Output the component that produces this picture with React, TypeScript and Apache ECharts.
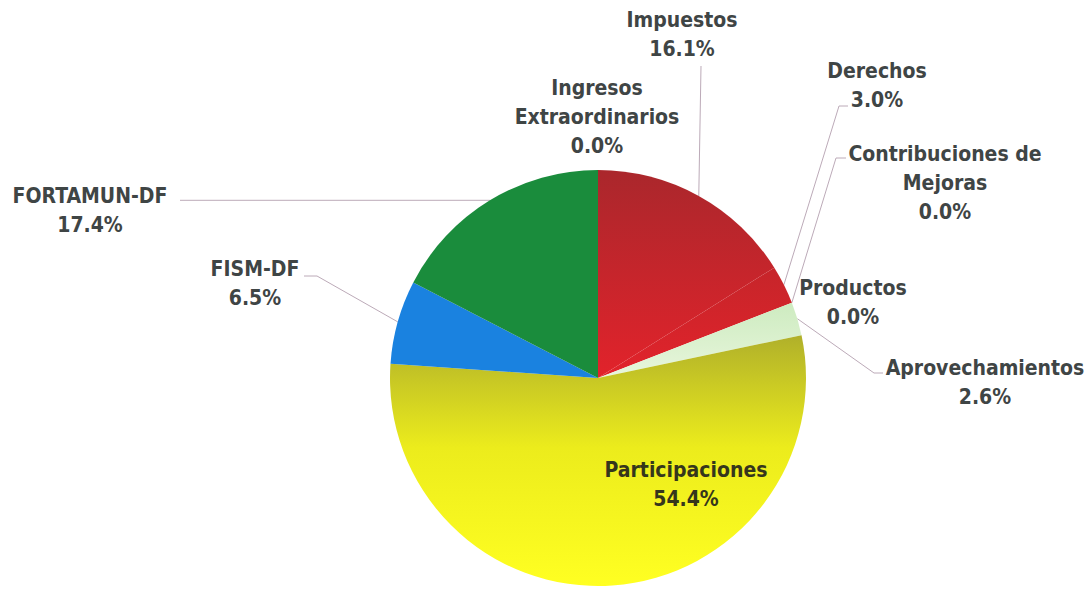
import React, { useEffect, useRef } from "react";
import * as echarts from "echarts";

const categories = [
  "Impuestos",
  "Derechos",
  "Contribuciones de\nMejoras",
  "Productos",
  "Aprovechamientos",
  "Participaciones",
  "FISM-DF",
  "FORTAMUN-DF",
  "Ingresos\nExtraordinarios",
];
const shares = [16.1, 3.0, 0.0, 0.0, 2.6, 54.4, 6.5, 17.4, 0.0];

const grad = (stops: [number, string][]) =>
  new echarts.graphic.LinearGradient(
    0,
    0,
    0,
    1,
    stops.map(([offset, color]) => ({ offset, color }))
  );

const sliceColors = [
  grad([[0, "#aa272c"], [1, "#e2232b"]]),
  grad([[0, "#c6252a"], [1, "#e2232b"]]),
  "#e2232b",
  "#d8f0c8",
  grad([[0, "#cdebc0"], [1, "#e8f6dc"]]),
  grad([[0, "#b0b02a"], [0.45, "#ecec1c"], [1, "#ffff22"]]),
  "#1a82e0",
  "#1a8c3c",
  "#1a8c3c",
];

// label block centres and label-line bend points (layout only)
const labelCenters: [number, number][] = [
  [682, 34],
  [877, 85],
  [945, 183],
  [853, 302],
  [985, 382],
  [686, 484],
  [255, 283],
  [90, 210],
  [597, 117],
];
const lineBends: ([number, number][] | null)[] = [
  [[701, 66]],
  [[839, 106], [848, 106]],
  [[836, 158], [846, 158]],
  null,
  [[874, 373], [883, 373]],
  null,
  [[317, 276], [304, 276]],
  [[180, -1]],
  null,
];

export default function App() {
  const ref = useRef<HTMLDivElement>(null);
  useEffect(() => {
    if (!ref.current) return;
    const chart = echarts.init(ref.current, undefined, { renderer: "svg" });
    const font = "'Liberation Sans Narrow', 'Arial Narrow', 'DejaVu Sans Condensed', sans-serif";
    chart.setOption({
      animation: false,
      backgroundColor: "#ffffff",
      series: [
        {
          type: "pie",
          center: [598, 378],
          radius: 208,
          startAngle: 90,
          clockwise: true,
          avoidLabelOverlap: false,
          emphasis: { disabled: true },
          itemStyle: { borderWidth: 0 },
          label: {
            show: true,
            position: "outside",
            fontFamily: font,
            fontWeight: "bold",
            fontSize: 21,
            lineHeight: 29,
            color: "#3f4545",
            align: "center",
            formatter: (p: any) => `${p.name}\n${p.value.toFixed(1)}%`,
          },
          labelLine: {
            show: true,
            length: 20,
            length2: 10,
            lineStyle: { color: "#bcaab8", width: 1 },
          },
          labelLayout: (params: any) => {
            const i = params.dataIndex;
            const c = labelCenters[i];
            const res: any = {
              x: c[0],
              y: c[1],
              align: "center",
              verticalAlign: "middle",
            };
            const bends = lineBends[i];
            const pts = params.labelLinePoints;
            if (bends && pts && pts.length) {
              const p0 = pts[0];
              res.labelLinePoints = [
                [p0[0], p0[1]],
                ...bends.map((b) => [b[0], b[1] < 0 ? p0[1] : b[1]]),
              ];
            }
            return res;
          },
          data: categories.map((name, i) => ({
            name,
            value: shares[i],
            itemStyle: { color: sliceColors[i] },
            label:
              i === 5
                ? { position: "inside", color: "#35361c" }
                : undefined,
            labelLine: lineBends[i] ? undefined : { show: false },
          })),
        },
      ],
    });
    return () => chart.dispose();
  }, []);
  return (
    <div
      ref={ref}
      style={{ position: "fixed", left: 0, top: 0, width: 1088, height: 589 }}
    />
  );
}
